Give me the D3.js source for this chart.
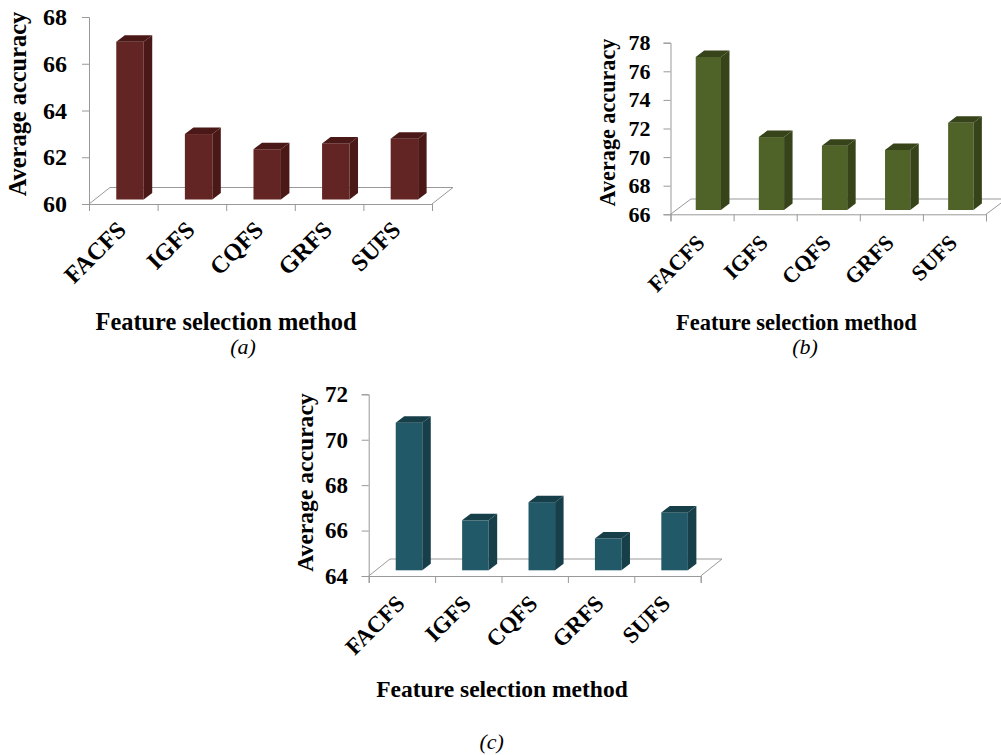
<!DOCTYPE html>
<html>
<head>
<meta charset="utf-8">
<script src="https://cdn.jsdelivr.net/npm/d3@7"></script>
<style>
	html, body { margin: 0; background: #fff; }
	text { font-family: "Liberation Serif", serif; fill: #000; }
	.axis path, .axis line, .floor { stroke: #999; stroke-width: 1; fill: none; }
	.labels path, .labels line { display: none; }
</style>
</head>
<body>
<svg id="chart" width="1001" height="755"></svg>
<script>
const categories = ["FACFS", "IGFS", "CQFS", "GRFS", "SUFS"]

const values_a = [66.75, 62.8, 62.15, 62.4, 62.6]
const values_b = [76.7, 71.1, 70.5, 70.2, 72.1]
const values_c = [70.5, 66.2, 67.0, 65.4, 66.55]

const ticks_a = [60, 62, 64, 66, 68]
const ticks_b = [66, 68, 70, 72, 74, 76, 78]
const ticks_c = [64, 66, 68, 70, 72]

const x_title = "Feature selection method"
const y_title = "Average accuracy"

// layout of each panel, values are taken from the arrays above
const panels = [
	{ caption: "(a)", vals: values_a, ticks: ticks_a,
	  left: 89, right: 432, top: 17, bottom: 204,
	  floor: [21, 16.5], lift: 4.5, shift: 6.7,
	  front: "#632523", side: "#4a1917", roof: "#4a1917",
	  tick_size: 24, tick_gap: 22, cat_size: 24, cat_gap: 23, title_size: 24.4,
	  title_pos: [226, 330], ytitle_pos: [26, 104], ytitle_size: 24.4, caption_pos: [243, 354] },
	{ caption: "(b)", vals: values_b, ticks: ticks_b,
	  left: 670.5, right: 986, top: 42.7, bottom: 214.3,
	  floor: [20.4, 15.3], lift: 4.3, shift: 6.3,
	  front: "#4f6228", side: "#374419", roof: "#374419",
	  tick_size: 22, tick_gap: 20, cat_size: 22, cat_gap: 26, title_size: 22.5,
	  title_pos: [796.5, 330], ytitle_pos: [615, 122.5], ytitle_size: 22.2, caption_pos: [805, 354] },
	{ caption: "(c)", vals: values_c, ticks: ticks_c,
	  left: 368.7, right: 700.7, top: 394.3, bottom: 576,
	  floor: [21.3, 17], lift: 5.7, shift: 7.1,
	  front: "#215968", side: "#173f4a", roof: "#173f4a",
	  tick_size: 23, tick_gap: 20.7, cat_size: 23, cat_gap: 25, title_size: 23.5,
	  title_pos: [502, 697], ytitle_pos: [313, 482.5], ytitle_size: 23.6, caption_pos: [491.7, 749] }
]

const svg = d3.select("#chart")
const depth = [8.5, 6.5]

function poly (pts) {
	return pts.map(p => p.join(",")).join(" ")
}

function drawPanel (p) {

	const x_scale = d3.scaleBand()
		.domain(categories)
		.range([p.left, p.right])
		.paddingInner(0.6)
		.paddingOuter(0.3)

	const y_scale = d3.scaleLinear()
		.domain([p.ticks[0], p.ticks[p.ticks.length - 1]])
		.range([p.bottom, p.top])

	// the category ticks sit between the bars
	const x_edges = d3.scaleLinear()
		.domain([0, categories.length])
		.range([p.left, p.right])

	const g = svg.append("g")

	// floor of the 3d box
	const [fx, fy] = p.floor
	g.append("polyline")
		.attr("class", "floor")
		.attr("points", poly([
			[p.left, p.bottom],
			[p.left + fx, p.bottom - fy],
			[p.right + fx, p.bottom - fy],
			[p.right, p.bottom]
		]))

	g.append("g")
		.attr("class", "axis")
		.attr("transform", "translate(0," + p.bottom + ")")
		.call(d3.axisBottom(x_edges)
			.tickValues(d3.range(categories.length + 1))
			.tickSize(7)
			.tickSizeOuter(7)
			.tickFormat(""))

	const yaxis = g.append("g")
		.attr("class", "axis")
		.attr("transform", "translate(" + p.left + ",0)")
		.call(d3.axisLeft(y_scale)
			.tickValues(p.ticks)
			.tickSize(7)
			.tickSizeOuter(7)
			.tickFormat(d3.format("d")))

	yaxis.selectAll("text")
		.attr("x", -p.tick_gap)
		.style("font-size", p.tick_size + "px")
		.style("font-weight", "bold")
		.style("font-family", "'Liberation Serif', serif")
		.attr("fill", "#000")

	// bars : front, side and top faces
	const bars = g.selectAll(".bar")
		.data(p.vals)
		.enter()
		.append("g")
		.attr("class", "bar")

	const bx = (d, i) => x_scale(categories[i]) + p.shift
	const bw = x_scale.bandwidth()
	const base = p.bottom - p.lift

	bars.append("rect")
		.attr("x", bx)
		.attr("y", d => y_scale(d) - p.lift)
		.attr("width", bw)
		.attr("height", d => base - (y_scale(d) - p.lift))
		.attr("fill", p.front)

	bars.append("polygon")
		.attr("fill", p.side)
		.attr("points", (d, i) => {
			const r = bx(d, i) + bw, t = y_scale(d) - p.lift
			return poly([[r, t], [r + depth[0], t - depth[1]], [r + depth[0], base - depth[1]], [r, base]])
		})

	bars.append("polygon")
		.attr("fill", p.roof)
		.attr("points", (d, i) => {
			const l = bx(d, i), t = y_scale(d) - p.lift
			return poly([[l, t], [l + depth[0], t - depth[1]], [l + bw + depth[0], t - depth[1]], [l + bw, t]])
		})

	// category labels, turned 45 degrees
	const labels = g.append("g")
		.attr("class", "labels")
		.attr("transform", "translate(0," + (p.bottom + p.cat_gap) + ")")
		.call(d3.axisBottom(x_scale).tickSize(0).tickPadding(0))

	labels.selectAll("text")
		.attr("y", 0)
		.attr("dy", "0.25em")
		.attr("text-anchor", "end")
		.attr("transform", "rotate(-45)")
		.attr("fill", "#000")
		.style("font-size", p.cat_size + "px")
		.style("font-weight", "bold")
		.style("font-family", "'Liberation Serif', serif")

	g.append("text")
		.attr("x", p.title_pos[0])
		.attr("y", p.title_pos[1])
		.attr("text-anchor", "middle")
		.style("font-size", p.title_size + "px")
		.style("font-weight", "bold")
		.text(x_title)

	g.append("text")
		.attr("transform", "translate(" + p.ytitle_pos[0] + "," + p.ytitle_pos[1] + ") rotate(-90)")
		.attr("text-anchor", "middle")
		.style("font-size", p.ytitle_size + "px")
		.style("font-weight", "bold")
		.text(y_title)

	g.append("text")
		.attr("x", p.caption_pos[0])
		.attr("y", p.caption_pos[1])
		.attr("text-anchor", "middle")
		.style("font-size", "22px")
		.style("font-style", "italic")
		.text(p.caption)
}

panels.forEach(drawPanel)
</script>
</body>
</html>
